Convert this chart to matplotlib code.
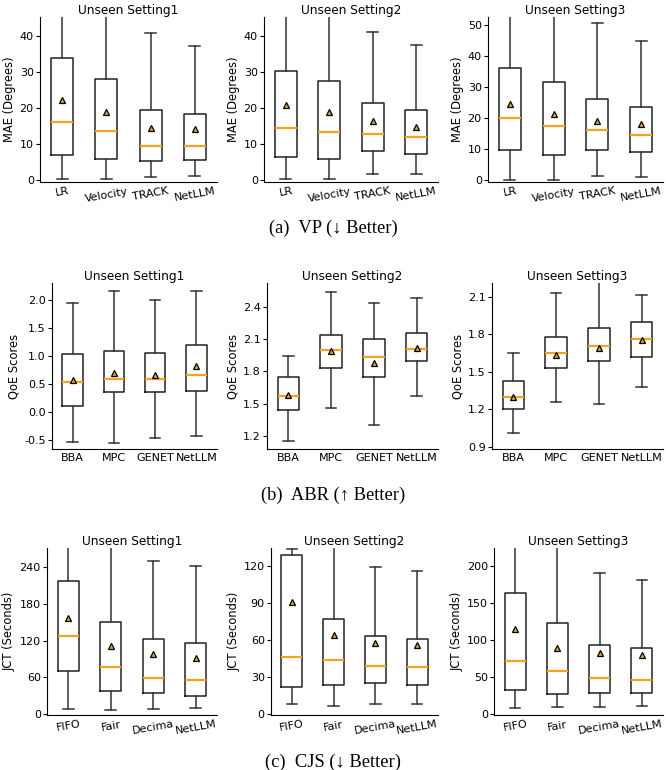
import matplotlib.pyplot as plt

plt.rcParams['font.family'] = ['DejaVu Sans']

settings = ['Unseen Setting1', 'Unseen Setting2', 'Unseen Setting3']
vp_methods = ['LR', 'Velocity', 'TRACK', 'NetLLM']
abr_methods = ['BBA', 'MPC', 'GENET', 'NetLLM']
cjs_methods = ['FIFO', 'Fair', 'Decima', 'NetLLM']

# box stats per panel: whisker low, q1, median, q3, whisker high, mean
vp1 = dict(lo=[0.2, 0.2, 0.9, 1.2], q1=[7.0, 5.9, 5.2, 5.5], med=[16.2, 13.7, 9.5, 9.5],
           q3=[33.8, 28.1, 19.5, 18.2], hi=[60, 55, 40.8, 37.1], mean=[22.2, 18.8, 14.4, 14.2])
vp2 = dict(lo=[0.2, 0.2, 1.5, 1.5], q1=[6.4, 5.9, 8.0, 7.3], med=[14.4, 13.4, 12.7, 11.8],
           q3=[30.4, 27.4, 21.5, 19.4], hi=[60, 55, 41.2, 37.6], mean=[20.7, 18.9, 16.3, 14.8])
vp3 = dict(lo=[0.3, 0.3, 1.4, 1.1], q1=[9.7, 8.1, 9.7, 9.3], med=[20.2, 17.5, 16.1, 14.6],
           q3=[36.3, 31.7, 26.2, 23.6], hi=[70, 65, 50.6, 45.0], mean=[24.6, 21.5, 19.1, 18.2])

abr1 = dict(lo=[-0.54, -0.55, -0.46, -0.43], q1=[0.11, 0.36, 0.36, 0.38], med=[0.53, 0.60, 0.60, 0.66],
            q3=[1.04, 1.10, 1.06, 1.20], hi=[1.95, 2.16, 2.01, 2.16], mean=[0.57, 0.70, 0.66, 0.83])
abr2 = dict(lo=[1.15, 1.46, 1.30, 1.57], q1=[1.445, 1.835, 1.746, 1.90], med=[1.568, 2.0, 1.933, 2.007],
            q3=[1.746, 2.136, 2.10, 2.158], hi=[1.943, 2.541, 2.437, 2.477], mean=[1.58, 1.99, 1.875, 2.02])
abr3 = dict(lo=[1.006, 1.255, 1.239, 1.378], q1=[1.203, 1.527, 1.585, 1.621], med=[1.30, 1.65, 1.702, 1.762],
            q3=[1.425, 1.781, 1.846, 1.896], hi=[1.653, 2.129, 2.35, 2.116], mean=[1.297, 1.637, 1.692, 1.757])

cjs1 = dict(lo=[8.5, 7.3, 9.0, 9.6], q1=[69.8, 37.3, 34.0, 29.1], med=[127.3, 77.3, 58.9, 55.7],
            q3=[216.3, 150.6, 122.9, 115.4], hi=[330, 300, 249.8, 241.2], mean=[156, 111, 98, 91])
cjs2 = dict(lo=[8.2, 7.1, 8.2, 8.7], q1=[22.2, 24.1, 25.1, 23.5], med=[46.7, 44.0, 38.9, 38.1],
            q3=[129.5, 77.7, 63.4, 61.3], hi=[134, 160, 119.5, 116.5], mean=[90.9, 64.8, 58.0, 56.7])
cjs3 = dict(lo=[8.2, 10.0, 10.0, 10.9], q1=[32.5, 28.0, 28.8, 28.8], med=[71.6, 58.1, 49.1, 46.9],
            q3=[163.6, 123.7, 94.1, 90.0], hi=[280, 260, 190.6, 181.1], mean=[116, 89.5, 82.3, 80.6])

W, H = 666, 770
fig = plt.figure(figsize=(W / 100, H / 100), dpi=100)

# (panel data, methods, ylabel, ylims, yticks, x px ranges, top px, bottom px, label rotation)
rows = [
    ([vp1, vp2, vp3], vp_methods, 'MAE (Degrees)',
     [(-0.6, 45.3), (-0.6, 45.3), (-0.5, 52.6)],
     [[0, 10, 20, 30, 40], [0, 10, 20, 30, 40], [0, 10, 20, 30, 40, 50]],
     [(40, 217), (264, 438), (488, 663)], 17, 182, 10),
    ([abr1, abr2, abr3], abr_methods, 'QoE Scores',
     [(-0.66, 2.31), (1.08, 2.62), (0.88, 2.21)],
     [[-0.5, 0.0, 0.5, 1.0, 1.5, 2.0], [1.2, 1.5, 1.8, 2.1, 2.4], [0.9, 1.2, 1.5, 1.8, 2.1]],
     [(52, 217), (267, 438), (492, 663)], 283, 449, 0),
    ([cjs1, cjs2, cjs3], cjs_methods, 'JCT (Seconds)',
     [(-1, 270.5), (-0.5, 135), (-0.8, 224.8)],
     [[0, 60, 120, 180, 240], [0, 30, 60, 90, 120], [0, 50, 100, 150, 200]],
     [(47, 217), (271, 438), (494, 663)], 548, 715, 10),
]
captions = ['(a)  VP (\u2193 Better)', '(b)  ABR (\u2191 Better)', '(c)  CJS (\u2193 Better)']
caption_y = [228, 495, 762]

for r, (panels, methods, ylab, ylims, yticks, xs, top, bot, rot) in enumerate(rows):
    for i, d in enumerate(panels):
        x0, x1 = xs[i]
        ax = fig.add_axes([x0 / W, 1 - bot / H, (x1 - x0) / W, (bot - top) / H])
        stats = []
        for j, m in enumerate(methods):
            stats.append(dict(label=m, whislo=d['lo'][j], q1=d['q1'][j], med=d['med'][j],
                              q3=d['q3'][j], whishi=d['hi'][j], mean=d['mean'][j]))
        ax.bxp(stats, showmeans=True, showfliers=False, widths=0.5,
               boxprops=dict(color='#222222', lw=1.1),
               whiskerprops=dict(color='#333333', lw=1.1),
               capprops=dict(color='#333333', lw=1.1),
               medianprops=dict(color='#f5a21f', lw=1.6),
               meanprops=dict(marker='^', markerfacecolor='#d9a43a',
                              markeredgecolor='black', markersize=5, markeredgewidth=0.9))
        ax.set_ylim(*ylims[i])
        ax.set_yticks(yticks[i])
        if r == 1:
            ax.set_yticklabels(['%.1f' % t for t in yticks[i]])
        ax.set_title(settings[i], fontsize=8.7, pad=2)
        ax.set_ylabel(ylab, fontsize=8.3, labelpad=2.5)
        ax.tick_params(labelsize=8, pad=1.5, length=3)
        ax.tick_params(axis='x', length=0, pad=3)
        for lbl in ax.get_xticklabels():
            lbl.set_rotation(rot)
        ax.spines['top'].set_visible(False)
        ax.spines['right'].set_visible(False)
    fig.text(0.5, 1 - caption_y[r] / H, captions[r], ha='center', va='center',
             fontsize=13.3, family=['Liberation Serif', 'DejaVu Serif'])

fig.savefig('out.png', dpi=100)
